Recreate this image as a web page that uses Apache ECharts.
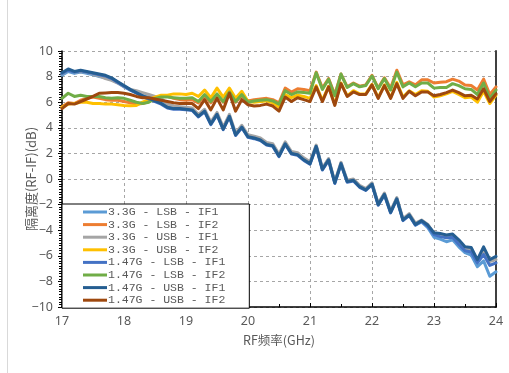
<!DOCTYPE html>
<html><head><meta charset="utf-8">
<script src="https://cdn.jsdelivr.net/npm/echarts@6/dist/echarts.min.js"></script>
<style>html,body{margin:0;padding:0;background:#fff}#c{width:509px;height:373px}</style>
</head><body><div id="c"></div>
<script>
const freq = [17.0,17.1,17.2,17.3,17.4,17.5,17.6,17.7,17.8,17.9,
18.0,18.1,18.2,18.3,18.4,18.5,18.6,18.7,18.8,18.9,
19.0,19.1,19.2,19.3,19.4,19.5,19.6,19.7,19.8,19.9,
20.0,20.1,20.2,20.3,20.4,20.5,20.6,20.7,20.8,20.9,
21.0,21.1,21.2,21.3,21.4,21.5,21.6,21.7,21.8,21.9,
22.0,22.1,22.2,22.3,22.4,22.5,22.6,22.7,22.8,22.9,
23.0,23.1,23.2,23.3,23.4,23.5,23.6,23.7,23.8,23.9,24.0];

const names = ["3.3G - LSB - IF1","3.3G - LSB - IF2","3.3G - USB - IF1","3.3G - USB - IF2",
"1.47G - LSB - IF1","1.47G - LSB - IF2","1.47G - USB - IF1","1.47G - USB - IF2"];

const lsbIF1_33 = [8.1,8.4,8.25,8.35,8.25,8.15,8.0,7.9,7.75,7.5,
7.2,6.95,6.75,6.55,6.4,6.2,6.0,5.7,5.6,5.55,
5.5,5.45,4.95,5.35,4.35,5.1,3.95,4.95,3.5,4.1,
3.35,3.25,3.1,2.75,2.65,1.85,2.8,2.05,1.95,1.55,
1.25,2.6,0.8,1.55,-0.25,1.25,-0.15,-0.05,-0.55,-0.8,
-0.35,-1.95,-1.15,-2.55,-1.5,-3.2,-2.8,-3.6,-3.35,-3.8,
-4.55,-4.7,-4.9,-4.75,-5.3,-5.75,-5.95,-6.85,-6.4,-7.6,-7.25];

const lsbIF2_33 = [5.65,5.95,5.9,6.15,6.3,6.4,6.3,6.2,6.15,6.15,
6.05,5.95,5.85,5.9,6.05,6.3,6.45,6.45,6.3,6.2,
6.15,6.2,5.95,6.5,5.95,6.55,6.0,6.7,6.0,6.5,
6.1,6.2,6.25,6.3,6.2,5.95,7.1,6.8,7.05,7.0,
6.9,8.35,7.1,7.85,6.6,8.2,7.2,7.5,7.25,7.35,
8.1,7.1,7.9,7.1,8.5,7.35,7.6,7.35,7.75,7.75,
7.5,7.55,7.6,7.8,7.65,7.35,7.3,6.95,7.8,6.6,7.2];

const usbIF1_33 = [8.2,8.5,8.35,8.4,8.35,8.2,8.05,7.85,7.7,7.5,
7.2,7.0,6.9,6.75,6.6,6.45,6.3,5.85,5.7,5.65,
5.6,5.55,5.05,5.45,4.45,5.2,4.05,5.05,3.6,4.2,
3.45,3.35,3.2,2.85,2.75,1.95,2.9,2.15,2.05,1.65,
1.35,2.65,0.85,1.6,-0.2,1.3,-0.1,0.0,-0.5,-0.75,
-0.3,-1.9,-1.1,-2.5,-1.45,-3.1,-2.7,-3.45,-3.2,-3.55,
-4.25,-4.35,-4.45,-4.4,-4.9,-5.45,-5.55,-6.35,-5.6,-6.45,-6.3];

const usbIF2_33 = [5.6,5.85,5.9,6.0,6.0,5.9,5.9,5.85,5.85,5.8,
5.75,5.72,5.75,6.0,6.2,6.4,6.55,6.55,6.65,6.65,
6.6,6.7,6.45,6.95,6.35,7.1,6.4,7.1,6.3,6.85,
6.05,6.0,6.05,6.1,5.95,5.6,6.6,6.35,6.55,6.45,
6.3,7.3,6.15,7.25,5.85,7.5,6.5,6.9,6.65,6.65,
7.4,6.35,7.35,6.35,7.55,6.4,6.9,6.6,6.9,6.85,
6.4,6.5,6.65,6.85,6.6,6.35,6.4,6.0,6.85,5.9,6.55];

const lsbIF1_147 = [8.25,8.5,8.35,8.45,8.35,8.25,8.15,8.05,7.85,7.55,
7.25,6.95,6.7,6.45,6.25,6.05,5.85,5.55,5.45,5.45,
5.4,5.35,4.85,5.25,4.25,5.0,3.85,4.85,3.4,4.0,
3.25,3.15,3.0,2.65,2.55,1.75,2.7,1.95,1.85,1.45,
1.15,2.5,0.7,1.45,-0.35,1.15,-0.25,-0.15,-0.65,-0.9,
-0.45,-2.05,-1.25,-2.65,-1.6,-3.25,-2.85,-3.6,-3.3,-3.7,
-4.35,-4.5,-4.6,-4.55,-5.1,-5.6,-5.7,-6.55,-5.9,-6.75,-6.55];

const lsbIF2_147 = [6.3,6.7,6.45,6.55,6.45,6.45,6.45,6.35,6.3,6.35,
6.3,6.15,6.0,5.9,6.0,6.3,6.4,6.4,6.35,6.3,
6.3,6.35,6.05,6.6,6.05,6.65,6.05,6.8,6.05,6.6,
6.0,6.1,6.15,6.2,6.1,5.85,6.9,6.6,6.8,6.75,
6.7,8.3,7.0,7.8,6.5,8.2,7.15,7.45,7.2,7.3,
8.05,7.05,7.85,6.95,8.35,7.2,7.5,7.2,7.5,7.5,
7.1,7.15,7.15,7.45,7.3,7.05,7.0,6.6,7.5,6.3,6.95];

const usbIF1_147 = [8.3,8.6,8.4,8.5,8.4,8.3,8.2,8.1,7.9,7.6,
7.3,7.0,6.75,6.5,6.3,6.1,5.9,5.6,5.5,5.5,
5.45,5.4,4.9,5.3,4.3,5.05,3.9,4.9,3.45,4.05,
3.3,3.2,3.05,2.7,2.6,1.8,2.75,2.0,1.9,1.5,
1.2,2.55,0.75,1.5,-0.3,1.2,-0.2,-0.1,-0.6,-0.85,
-0.4,-2.0,-1.2,-2.6,-1.55,-3.2,-2.8,-3.55,-3.25,-3.6,
-4.2,-4.25,-4.37,-4.3,-4.75,-5.3,-5.35,-6.3,-5.3,-6.3,-6.05];

const usbIF2_147 = [5.5,5.9,5.85,6.05,6.25,6.45,6.7,6.72,6.75,6.75,
6.7,6.6,6.45,6.35,6.35,6.25,6.15,6.05,5.95,5.9,
5.9,5.9,5.5,6.2,5.4,6.3,5.4,6.7,5.3,6.2,
5.8,5.7,5.75,5.85,5.7,5.3,6.4,6.05,6.35,6.2,
6.05,7.2,6.05,7.2,5.75,7.45,6.45,6.8,6.6,6.6,
7.35,6.3,7.3,6.3,7.45,6.3,6.85,6.5,6.8,6.8,
6.5,6.6,6.75,6.95,6.75,6.5,6.55,6.25,7.05,6.05,6.65];

const seriesValues = [lsbIF1_33, lsbIF2_33, usbIF1_33, usbIF2_33, lsbIF1_147, lsbIF2_147, usbIF1_147, usbIF2_147];
const colors = ["#5B9BD5","#ED7D31","#A5A5A5","#FFC000","#4472C4","#70AD47","#255E91","#9E480E"];

const chart = echarts.init(document.getElementById('c'), null, {renderer:'canvas'});
const labelFont = {color:'#595959', fontSize:12.5, fontFamily:'"Noto Sans", "Noto Sans CJK SC", sans-serif'};

chart.setOption({
  animation:false,
  backgroundColor:'#ffffff',
  graphic:[{
    type:'line', silent:true, z:-1,
    shape:{x1:7.5, y1:0, x2:7.5, y2:373},
    style:{stroke:'#D9D9D9', lineWidth:1}
  }],
  grid:{left:62, right:13, top:51, bottom:66, containLabel:false},
  xAxis:{
    type:'value', min:17, max:24, interval:1,
    name:'RF频率(GHz)', nameLocation:'middle', nameGap:27, nameMoveOverlap:false,
    nameTextStyle:{color:'#595959', fontSize:12.5, fontFamily:'"Noto Sans CJK SC", sans-serif'},
    axisLine:{show:true, onZero:false, lineStyle:{color:'#000', width:1.5}},
    axisTick:{show:true, inside:true, length:4, lineStyle:{color:'#000'}},
    minorTick:{show:true, splitNumber:2, length:3, lineStyle:{color:'#000'}},
    axisLabel:Object.assign({margin:8, formatter:v=>String(v)}, labelFont),
    splitLine:{show:true, lineStyle:{color:'#A6A6A6', type:[3,3], width:1}}
  },
  yAxis:[{
    type:'value', min:-10, max:10, interval:2,
    name:'隔离度(RF-IF)(dB)', nameLocation:'middle', nameGap:24, nameRotate:90, nameMoveOverlap:false,
    nameTextStyle:{color:'#595959', fontSize:13, fontFamily:'"Noto Sans CJK SC", sans-serif'},
    axisLine:{show:true, onZero:false, lineStyle:{color:'#000', width:1.5}},
    axisTick:{show:true, inside:false, length:4, lineStyle:{color:'#000'}},
    minorTick:{show:true, splitNumber:10, length:3, lineStyle:{color:'#000'}},
    axisLabel:Object.assign({margin:9, formatter:v=>String(v).replace('-', '\u2212')}, labelFont),
    splitLine:{show:true, lineStyle:{color:'#A6A6A6', type:[3,3], width:1}}
  },{
    type:'value', min:-10, max:10, interval:2, position:'right',
    axisLine:{show:true, onZero:false, lineStyle:{color:'#404040', width:2}},
    axisTick:{show:false}, axisLabel:{show:false}, splitLine:{show:false}
  }],
  legend:{
    show:true, orient:'vertical', left:62, top:204,
    padding:[2,24,2,21], itemGap:0.6, itemWidth:24, itemHeight:3,
    icon:'rect', backgroundColor:'#ffffff', borderColor:'#000', borderWidth:1,
    textStyle:{color:'#595959', fontSize:11.5, lineHeight:12, fontFamily:'"Liberation Mono", "DejaVu Sans Mono", monospace', padding:[0,0,0,-4]},
    data:names
  },
  series: seriesValues.map((vals,i)=>({
    name:names[i], type:'line', yAxisIndex:0,
    data:freq.map((f,k)=>[f, vals[k]]),
    symbol:'none', smooth:false,
    lineStyle:{color:colors[i], width:3, cap:'round', join:'round'},
    itemStyle:{color:colors[i]},
    emphasis:{disabled:true}
  }))
});
</script></body></html>
